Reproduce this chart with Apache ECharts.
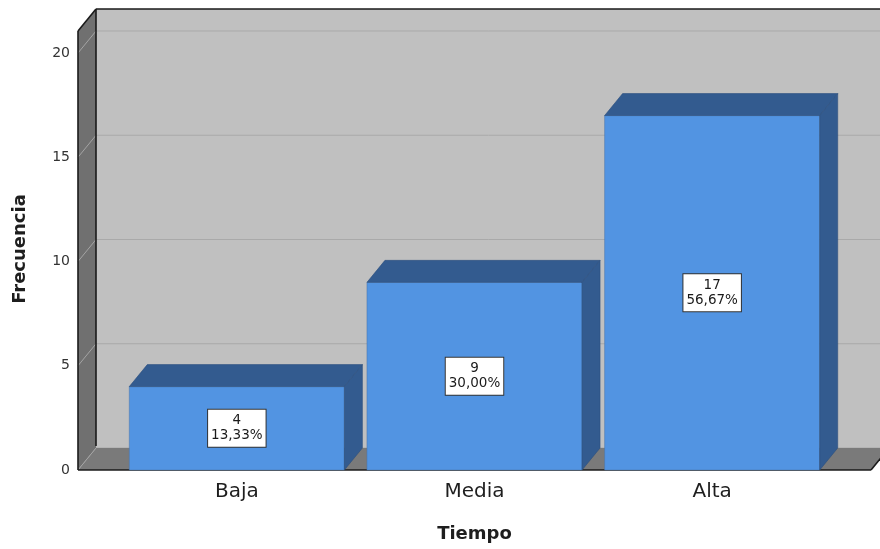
<!DOCTYPE html>
<html>
<head>
<meta charset="utf-8">
<title>Tiempo</title>
<script src="https://cdn.jsdelivr.net/npm/echarts@6/dist/echarts.min.js"></script>
<style>
  html, body { margin: 0; padding: 0; background: #fff; }
  #chart { width: 880px; height: 549px; }
</style>
</head>
<body>
<div id="chart"></div>
<script>
// Categories, counts and axis ticks
const categories = ['Baja', 'Media', 'Alta'];
const counts = [4, 9, 17];
const yTicks = [0, 5, 10, 15, 20];

const total = counts.reduce((a, b) => a + b, 0);
const pctText = v => (v / total * 100).toFixed(2).replace('.', ',') + '%';

// Pseudo-3D depth of the box (pixels)
const DX = 18;
const DY = 22;
const WALL_OFFSET = 40;
const FONT = '"DejaVu Sans", "Noto Sans", sans-serif';

// Back wall, left wall, floor and gridlines, all placed from the axis scale
function renderFrame(params, api) {
  const cs = params.coordSys;
  const x0 = cs.x - WALL_OFFSET;
  const xb = x0 + DX;
  const yF = api.coord([0, 0])[1];
  const yTopF = cs.y - DY;
  const xR = cs.x + cs.width + WALL_OFFSET;
  const far = api.getWidth() + 30;
  const children = [];

  children.push({
    type: 'rect',
    shape: { x: xb, y: yTopF - DY, width: far - xb, height: (yF - DY) - (yTopF - DY) },
    style: { fill: '#c0c0c0' }
  });
  yTicks.forEach(v => {
    const y = api.coord([0, v])[1] - DY;
    children.push({
      type: 'line',
      shape: { x1: xb, y1: y, x2: far, y2: y },
      style: { stroke: '#a9a9a9', lineWidth: 1 }
    });
  });
  children.push({
    type: 'polygon',
    shape: { points: [[x0, yF], [xR, yF], [xR + DX, yF - DY], [xb, yF - DY]] },
    style: { fill: '#7a7a7a' }
  });
  children.push({
    type: 'polygon',
    shape: { points: [[x0, yF], [x0, yTopF], [xb, yTopF - DY], [xb, yF - DY]] },
    style: { fill: '#707070' }
  });
  yTicks.forEach(v => {
    const y = api.coord([0, v])[1];
    children.push({
      type: 'line',
      shape: { x1: x0, y1: y, x2: xb, y2: y - DY },
      style: { stroke: '#a4a4a4', lineWidth: 1 }
    });
  });
  const edges = [
    [x0, yTopF, x0, yF],
    [x0, yTopF, xb, yTopF - DY],
    [xb, yTopF - DY, far, yTopF - DY],
    [xb, yTopF - DY, xb, yF - DY - 2],
    [x0, yF, xR, yF],
    [xR, yF, xR + DX, yF - DY]
  ];
  edges.forEach(e => {
    children.push({
      type: 'line',
      shape: { x1: e[0], y1: e[1], x2: e[2], y2: e[3] },
      style: { stroke: '#1a1a1a', lineWidth: 1.6 }
    });
  });
  return { type: 'group', children };
}

// One box per category: front face, top, right side and the value label
function renderBox(params, api) {
  const i = api.value(0);
  const v = api.value(1);
  const top = api.coord([i, v]);
  const base = api.coord([i, 0]);
  const w = api.size([1, 0])[0] * 0.905;
  const L = top[0] - w / 2;
  const R = top[0] + w / 2;
  const T = top[1];
  const B = base[1];
  return {
    type: 'group',
    children: [
      {
        type: 'rect',
        shape: { x: L, y: T, width: R - L, height: B - T },
        style: { fill: '#5294e2', stroke: '#4a74a8', lineWidth: 0.5 }
      },
      {
        type: 'polygon',
        shape: { points: [[L, T], [L + DX, T - DY], [R + DX, T - DY], [R, T]] },
        style: { fill: '#335b8f', stroke: '#2c4f7e', lineWidth: 0.6 }
      },
      {
        type: 'polygon',
        shape: { points: [[R, B], [R, T], [R + DX, T - DY], [R + DX, B - DY]] },
        style: { fill: '#335b8f', stroke: '#2c4f7e', lineWidth: 0.6 }
      },
      {
        type: 'text',
        x: top[0],
        y: (T + B) / 2,
        style: {
          text: v + '\n' + pctText(v),
          align: 'center',
          verticalAlign: 'middle',
          font: '13.5px ' + FONT,
          lineHeight: 15,
          fill: '#1a1a1a',
          backgroundColor: '#fff',
          borderColor: '#333',
          borderWidth: 1,
          padding: [4, 3, 3, 3]
        }
      }
    ]
  };
}

const chart = echarts.init(document.getElementById('chart'), null, { renderer: 'canvas' });
chart.setOption({
  animation: false,
  backgroundColor: '#fff',
  grid: { left: 118, right: 49, top: 53, bottom: 79 },
  xAxis: {
    type: 'category',
    data: categories,
    axisLine: { show: false },
    axisTick: { show: false },
    axisLabel: { fontSize: 20, color: '#1e1e1e', margin: 12, fontFamily: FONT },
    name: 'Tiempo',
    nameLocation: 'middle',
    nameGap: 55,
    nameTextStyle: { fontSize: 18, fontWeight: 'bold', color: '#1e1e1e', fontFamily: FONT }
  },
  yAxis: {
    type: 'value',
    min: 0,
    max: 20,
    interval: 5,
    offset: WALL_OFFSET,
    axisLine: { show: false },
    axisTick: { show: false },
    splitLine: { show: false },
    axisLabel: { fontSize: 14, color: '#333', margin: 8, fontFamily: FONT, padding: [5, 0, 0, 0] }
  },
  graphic: [{
    type: 'text',
    x: 20,
    y: 249,
    rotation: Math.PI / 2,
    style: {
      text: 'Frecuencia',
      align: 'center',
      verticalAlign: 'middle',
      font: 'bold 18px ' + FONT,
      fill: '#1e1e1e'
    }
  }],
  series: [
    {
      type: 'custom',
      clip: false,
      silent: true,
      z: 1,
      renderItem: renderFrame,
      data: [[0, 0]],
      encode: { x: 0, y: 1 }
    },
    {
      type: 'custom',
      clip: false,
      z: 2,
      renderItem: renderBox,
      data: categories.map((c, i) => [i, counts[i]]),
      encode: { x: 0, y: 1 }
    }
  ]
});
</script>
</body>
</html>
